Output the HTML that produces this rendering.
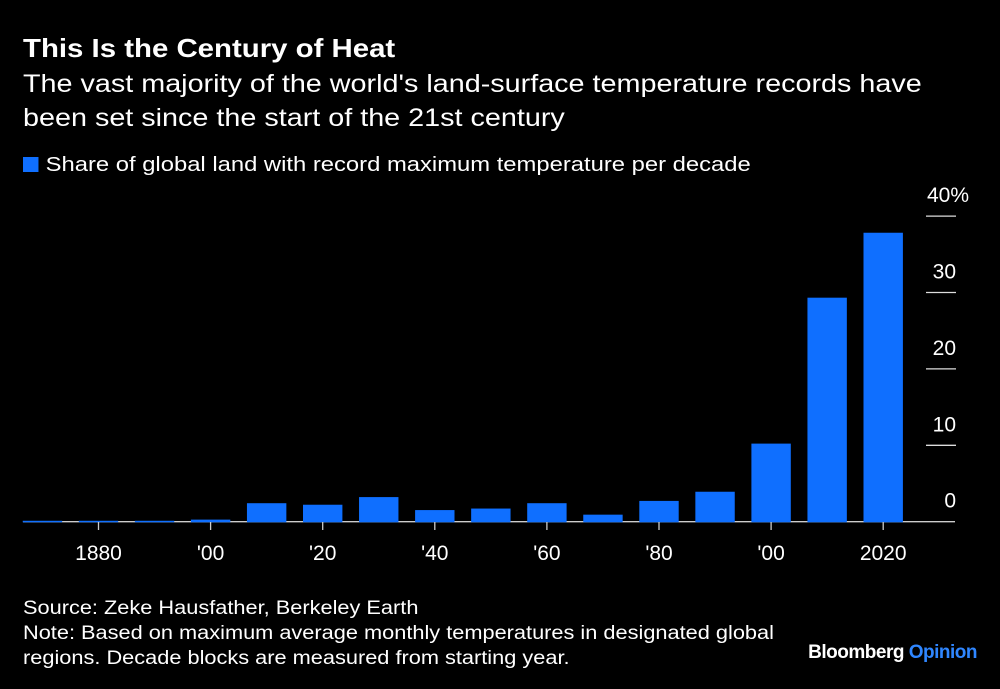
<!DOCTYPE html>
<html><head><meta charset="utf-8"><style>
body{margin:0;background:#000;width:1000px;height:689px;overflow:hidden;font-family:"Liberation Sans",sans-serif;color:#fff}
.t{position:absolute;left:23px;white-space:nowrap;transform-origin:0 0}
</style></head><body>
<div class="t" style="top:33px;font-size:26px;font-weight:bold;transform:scaleX(1.13)">This Is the Century of Heat</div>
<div class="t" style="top:67px;font-size:25px;line-height:34px;transform:scaleX(1.15)">The vast majority of the world's land-surface temperature records have<br>been set since the start of the 21st century</div>
<div class="t" style="top:154px;font-size:20px;transform:scaleX(1.19)"><span style="display:inline-block;width:13px;height:15px;background:#0f6fff;margin-right:6px;vertical-align:-1px"></span>Share of global land with record maximum temperature per decade</div>
<svg id="c" width="1000" height="689" style="position:absolute;left:0;top:0"></svg>
<div class="t" style="top:596px;font-size:19px;line-height:25px;transform:scaleX(1.145)">Source: Zeke Hausfather, Berkeley Earth<br>Note: Based on maximum average monthly temperatures in designated global<br>regions. Decade blocks are measured from starting year.</div>
<div style="position:absolute;right:23px;top:642px;font-size:19px;font-weight:bold;letter-spacing:-0.5px">Bloomberg <span style="color:#2f86ff">Opinion</span></div>
<script>
const decades=[1870,1880,1890,1900,1910,1920,1930,1940,1950,1960,1970,1980,1990,2000,2010,2020];
const values=[0.2,0.2,0.2,0.35,2.5,2.3,3.3,1.6,1.8,2.5,1.0,2.8,4.0,10.3,29.4,37.9];
const yTicks=[0,10,20,30,40];
const yTickLabels=['0','10','20','30','40%'];
const xTicks=[1880,1900,1920,1940,1960,1980,2000,2020];
const xTickLabels=['1880',"'00","'20","'40","'60","'80","'00",'2020'];
const NS='http://www.w3.org/2000/svg';
const svg=document.getElementById('c');
const x=d=>98.5+(d-1880)/10*56.05;
const y=v=>521.7-v*7.64;
function mk(t,a){const e=document.createElementNS(NS,t);for(const k in a)e.setAttribute(k,a[k]);svg.appendChild(e);return e;}
const b=mk('line',{x1:23,x2:955,y1:521.7,y2:521.7,stroke:'#ccc','stroke-width':1.3});


decades.forEach((d,i)=>{const h=Math.max(1.5,y(0)-y(values[i]));const r=mk('rect',{x:x(d)-19.7,y:y(0)-h+0.6,width:39.4,height:h,fill:'#0f6fff'});

});
yTicks.forEach((v,i)=>{
 if(v>0){const l=mk('line',{x1:926,x2:956,y1:y(v),y2:y(v),stroke:'#ddd','stroke-width':1.3});
 
 }
 const t=mk('text',{x:v===40?927:956,y:y(v)-14,fill:'#fff','font-size':21,'text-anchor':v===40?'start':'end'});t.textContent=yTickLabels[i];
 
 });
xTicks.forEach((d,i)=>{const l=mk('line',{x1:x(d),x2:x(d),y1:522,y2:530,stroke:'#ccc','stroke-width':1.3});
 
 
 const t=mk('text',{x:x(d),y:560,fill:'#fff','font-size':21,'text-anchor':'middle'});t.textContent=xTickLabels[i];
 
 });
</script>
</body></html>
